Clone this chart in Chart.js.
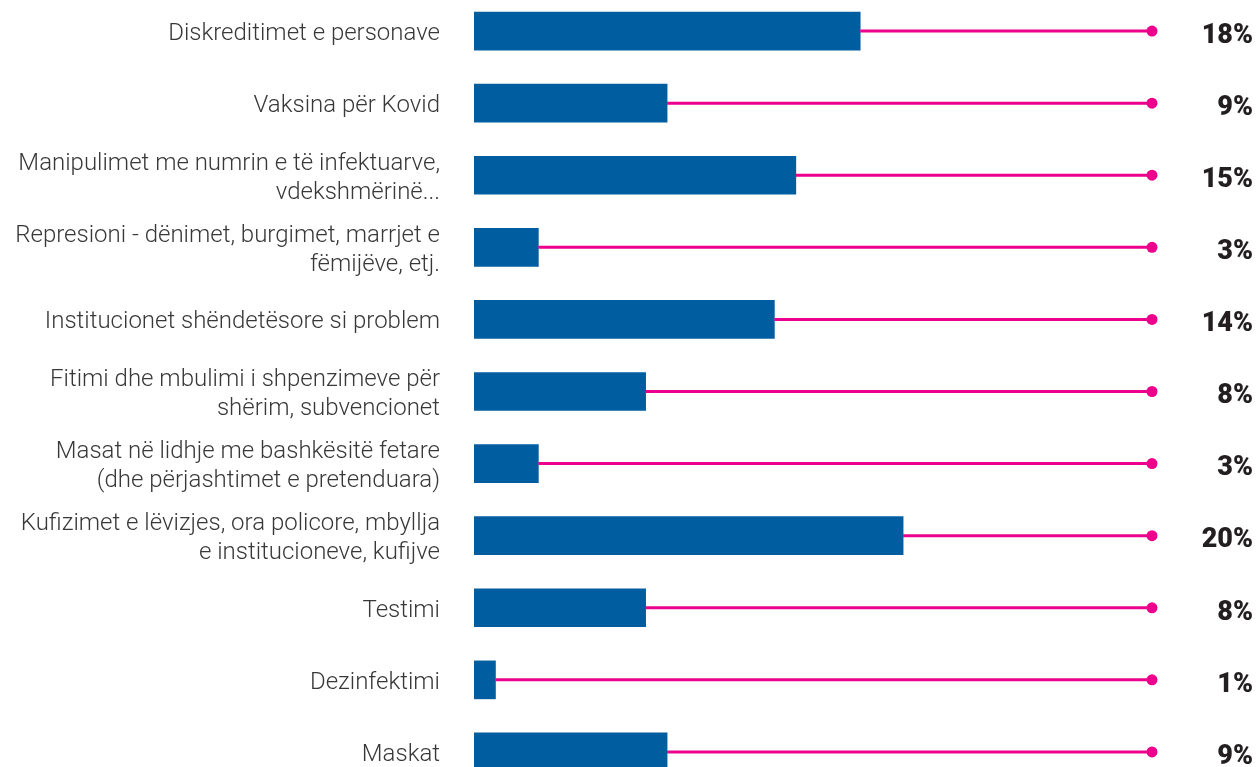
<!DOCTYPE html>
<html>
<head>
<meta charset="utf-8">
<script src="https://cdn.jsdelivr.net/npm/chart.js@4/dist/chart.umd.min.js"></script>
<style>
  html, body { margin: 0; padding: 0; background: #fff; overflow: hidden; }
  #wrap { position: absolute; left: 0; top: -5px; width: 1257px; height: 793px; }
</style>
</head>
<body>
<div id="wrap"><canvas id="chart"></canvas></div>
<script>
"use strict";
const categories = [
  "Diskreditimet e personave",
  "Vaksina për Kovid",
  ["Manipulimet me numrin e të infektuarve,", "vdekshmërinë..."],
  ["Represioni - dënimet, burgimet, marrjet e", "fëmijëve, etj."],
  "Institucionet shëndetësore si problem",
  ["Fitimi dhe mbulimi i shpenzimeve për", "shërim, subvencionet"],
  ["Masat në lidhje me bashkësitë fetare", "(dhe përjashtimet e pretenduara)"],
  ["Kufizimet e lëvizjes, ora policore, mbyllja", "e institucioneve, kufijve"],
  "Testimi",
  "Dezinfektimi",
  "Maskat"
];
const shares = [18, 9, 15, 3, 14, 8, 3, 20, 8, 1, 9];
const percentLabels = ["18%", "9%", "15%", "3%", "14%", "8%", "3%", "20%", "8%", "1%", "9%"];

const BLUE = "#005ea0";
const PINK = "#ec008c";

// pink leader line from bar end to the right edge, plus dot and % label
const leaderPlugin = {
  id: "leaders",
  afterDatasetsDraw(chart) {
    const { ctx, chartArea } = chart;
    const bars = chart.getDatasetMeta(0).data;
    ctx.save();
    bars.forEach((bar, i) => {
      const y = bar.y;
      ctx.strokeStyle = PINK;
      ctx.lineWidth = 3;
      ctx.beginPath();
      ctx.moveTo(bar.x, y);
      ctx.lineTo(chartArea.right, y);
      ctx.stroke();
      ctx.fillStyle = PINK;
      ctx.beginPath();
      ctx.arc(chartArea.right, y, 5.5, 0, Math.PI * 2);
      ctx.fill();
      ctx.fillStyle = "#231f20";
      ctx.font = "900 27px Roboto";
      ctx.textAlign = "right";
      ctx.textBaseline = "middle";
      ctx.fillText(percentLabels[i], 1253, y + 5);
    });
    ctx.restore();
  }
};

new Chart(document.getElementById("chart"), {
  type: "bar",
  data: {
    labels: categories,
    datasets: [{
      data: shares,
      backgroundColor: BLUE,
      barThickness: 38
    }]
  },
  options: {
    indexAxis: "y",
    responsive: true,
    maintainAspectRatio: false,
    animation: false,
    layout: { padding: { left: 0, right: 105, top: 0, bottom: 0 } },
    plugins: { legend: { display: false }, tooltip: { enabled: false } },
    scales: {
      x: { display: false, min: 0, max: 31.6 },
      y: {
        afterFit(scale) {
          scale.width = 474;
          scale.paddingTop = 0;
          scale.paddingBottom = 0;
        },
        border: { display: false },
        grid: { display: false, drawTicks: false },
        ticks: {
          padding: 34,
          labelOffset: 3,
          color: "#383838",
          font: { family: "Roboto", size: 24, weight: 300, lineHeight: 1.2 }
        }
      }
    }
  },
  plugins: [leaderPlugin]
});
</script>
</body>
</html>
